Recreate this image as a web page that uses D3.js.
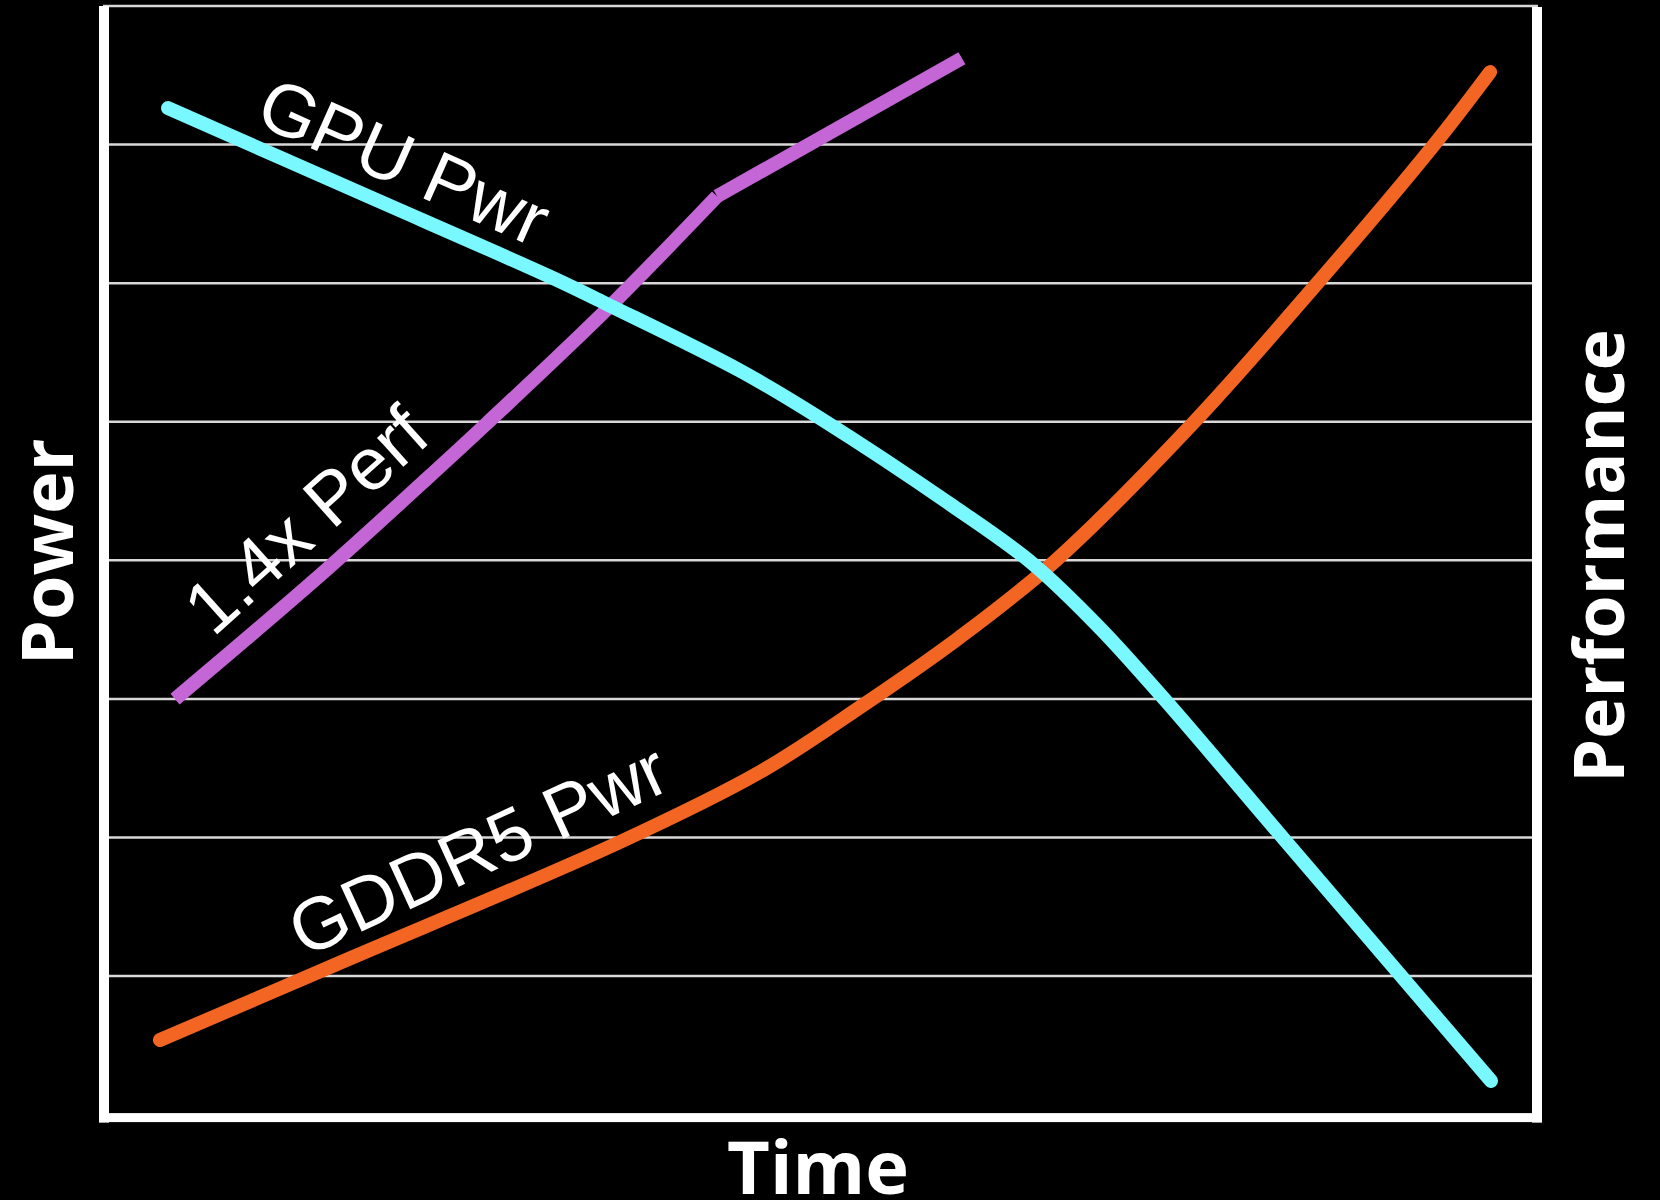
<!DOCTYPE html>
<html>
<head>
<meta charset="utf-8">
<script src="https://cdn.jsdelivr.net/npm/d3@7"></script>
<style>
  html, body { margin: 0; padding: 0; background: #000; }
  svg { display: block; }
</style>
</head>
<body>
<svg id="chart" width="1660" height="1200"></svg>
<script>
// Time runs 0..10, power / performance on a 0..8 grid.
const gridLevels = [1, 2, 3, 4, 5, 6, 7, 8];

// GPU power falls as time goes on
const gpuTime  = [0.415, 1.75, 3.106, 3.514, 4.441, 4.996, 5.931, 6.486, 6.964, 7.421, 8.250, 9.712];
const gpuPower = [7.263, 6.658, 6.043, 5.841, 5.365, 5.026, 4.391, 3.980, 3.511, 2.992, 1.996, 0.243];

// GDDR5 memory power climbs
const memTime  = [0.358, 1.602, 3.591, 4.575, 5.299, 5.980, 6.655, 7.604, 8.461, 9.304, 9.705];
const memPower = [0.538, 1.087, 1.967, 2.472, 2.955, 3.446, 4.001, 4.975, 5.964, 6.989, 7.523];

// Performance: steep rise, then a flatter stretch after the knee
const perfTimeA = [0.464, 1.469, 2.207, 2.656, 3.514, 4.273];
const perfA     = [2.998, 3.879, 4.564, 4.989, 5.827, 6.627];
const perfTimeB = [4.273, 5.994];
const perfB     = [6.627, 7.623];

// Label anchors (time, level) and angles
const labels = [
  { text: "GPU Pwr",   t: 1.010, v: 7.160, angle: 24,    size: 74 },
  { text: "1.4x Perf", t: 0.731, v: 3.439, angle: -42,   size: 74 },
  { text: "GDDR5 Pwr", t: 1.370, v: 1.130, angle: -24.7, size: 74 }
];

const svg = d3.select("#chart");
const W = 1660, H = 1200;
const plot = { left: 109, right: 1532, top: 6, bottom: 1114.6 };

svg.append("rect").attr("width", W).attr("height", H).attr("fill", "#000");

const x = d3.scaleLinear().domain([0, 10]).range([plot.left, plot.right]);
const y = d3.scaleLinear().domain([0, 8]).range([plot.bottom, plot.top]);

// horizontal grid
svg.append("g")
  .selectAll("line")
  .data(gridLevels)
  .join("line")
  .attr("x1", plot.left - 6).attr("x2", plot.right + 6)
  .attr("y1", d => y(d)).attr("y2", d => y(d))
  .attr("stroke", "#d8d8d8")
  .attr("stroke-width", 2.5);

// frame: heavy left, right and bottom edges
const frame = svg.append("g").attr("fill", "#fff");
frame.append("rect").attr("x", plot.left - 10).attr("y", plot.top)
  .attr("width", 10).attr("height", plot.bottom - plot.top + 8);
frame.append("rect").attr("x", plot.right).attr("y", plot.top + 1)
  .attr("width", 10).attr("height", plot.bottom - plot.top + 7);
frame.append("rect").attr("x", plot.left - 10).attr("y", plot.bottom - 1.5)
  .attr("width", plot.right - plot.left + 20).attr("height", 9);

const line = d3.line()
  .curve(d3.curveCatmullRom.alpha(0.5))
  .x(d => x(d[0])).y(d => y(d[1]));

function series(ts, vs) { return ts.map((t, i) => [t, vs[i]]); }

const curves = svg.append("g").attr("fill", "none");

curves.append("path")
  .attr("d", line(series(perfTimeA, perfA)))
  .attr("stroke", "#c466d6").attr("stroke-width", 14).attr("stroke-linecap", "butt");
curves.append("path")
  .attr("d", line(series(perfTimeB, perfB)))
  .attr("stroke", "#c466d6").attr("stroke-width", 14).attr("stroke-linecap", "butt");

curves.append("path")
  .attr("d", line(series(memTime, memPower)))
  .attr("stroke", "#f26522").attr("stroke-width", 14).attr("stroke-linecap", "round");

curves.append("path")
  .attr("d", line(series(gpuTime, gpuPower)))
  .attr("stroke", "#7af8ff").attr("stroke-width", 14).attr("stroke-linecap", "round");

// curve labels
svg.append("g")
  .selectAll("text")
  .data(labels)
  .join("text")
  .attr("transform", d => `translate(${x(d.t)},${y(d.v)}) rotate(${d.angle})`)
  .attr("font-family", "'Liberation Sans', Arial, sans-serif")
  .attr("font-size", d => d.size)
  .attr("fill", "#fff")
  .text(d => d.text);

// axis titles
const titleFont = { family: "'Open Sans', sans-serif", weight: 700 };
svg.append("text")
  .attr("transform", `translate(73,552) rotate(-90)`)
  .attr("text-anchor", "middle")
  .attr("font-family", titleFont.family).attr("font-weight", titleFont.weight)
  .attr("font-size", 72).attr("fill", "#fff")
  .text("Power");

svg.append("text")
  .attr("transform", `translate(1624,556) rotate(-90)`)
  .attr("text-anchor", "middle")
  .attr("font-family", titleFont.family).attr("font-weight", titleFont.weight)
  .attr("font-size", 70).attr("fill", "#fff")
  .text("Performance");

svg.append("text")
  .attr("x", 818).attr("y", 1194)
  .attr("text-anchor", "middle")
  .attr("font-family", titleFont.family).attr("font-weight", titleFont.weight)
  .attr("font-size", 74).attr("fill", "#fff")
  .text("Time");
</script>
</body>
</html>
